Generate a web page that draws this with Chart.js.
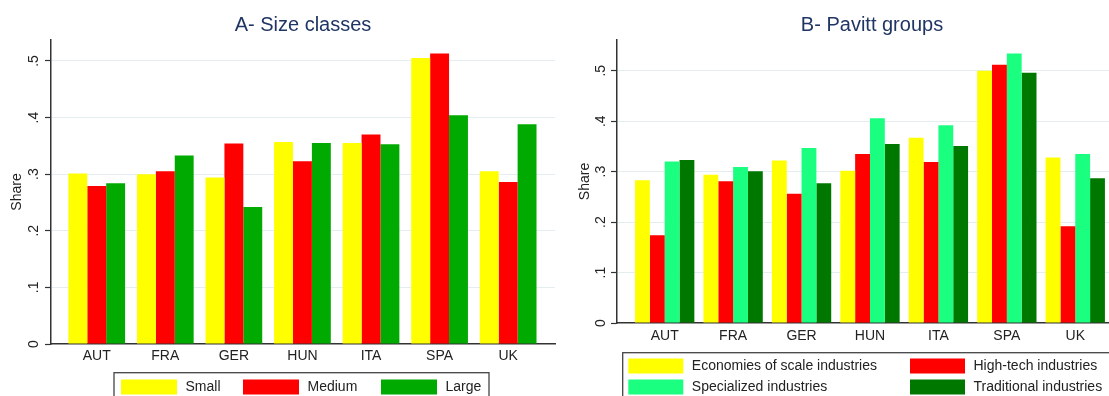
<!DOCTYPE html>
<html lang="en">
<head>
<meta charset="UTF-8">
<title>Share by country</title>
<script src="https://cdn.jsdelivr.net/npm/chart.js@4"></script>
<style>
  body { margin: 0; background: #fff; }
  .panel { position: absolute; top: 0; }
</style>
</head>
<body>
<canvas id="sizeChart" class="panel" width="560" height="396" style="left:0"></canvas>
<canvas id="pavittChart" class="panel" width="549" height="396" style="left:560px"></canvas>
<script>
// data
const countries = ['AUT', 'FRA', 'GER', 'HUN', 'ITA', 'SPA', 'UK'];
const yTicks = [0, 0.1, 0.2, 0.3, 0.4, 0.5];

// A - size classes
const small  = [0.301, 0.300, 0.294, 0.357, 0.355, 0.505, 0.305];
const medium = [0.279, 0.305, 0.354, 0.323, 0.370, 0.513, 0.286];
const large  = [0.284, 0.333, 0.242, 0.355, 0.353, 0.404, 0.388];

// B - Pavitt groups
const scaleInd    = [0.283, 0.294, 0.322, 0.302, 0.367, 0.500, 0.328];
const hightech    = [0.174, 0.281, 0.256, 0.335, 0.319, 0.512, 0.192];
const specialized = [0.320, 0.309, 0.347, 0.406, 0.392, 0.534, 0.335];
const traditional = [0.323, 0.301, 0.277, 0.355, 0.351, 0.496, 0.287];

const FONT = '"Liberation Sans", Arial, Helvetica, sans-serif';
const INK = '#222';

// title + boxed legend, drawn in the style of the original graph
function panelDecor(cfg) {
    return {
        id: 'panelDecor',
        afterDraw(chart) {
            const ctx = chart.ctx;
            ctx.save();
            ctx.fillStyle = '#1f3563';
            ctx.font = '20px ' + FONT;
            ctx.textAlign = 'center';
            ctx.textBaseline = 'middle';
            ctx.fillText(cfg.title, cfg.titleX, cfg.titleY);

            const lg = cfg.legend;
            ctx.strokeStyle = '#444';
            ctx.lineWidth = 1.3;
            ctx.strokeRect(lg.box[0], lg.box[1], lg.box[2], lg.box[3]);
            ctx.font = '14px ' + FONT;
            ctx.textAlign = 'left';
            chart.data.datasets.forEach((ds, i) => {
                const [x, y] = lg.slots[i];
                ctx.fillStyle = ds.backgroundColor;
                ctx.fillRect(x, y, lg.symW, lg.symH);
                ctx.fillStyle = INK;
                ctx.fillText(ds.label, x + lg.symW + lg.gap, y + lg.symH / 2 + 0.5);
            });
            ctx.restore();
        }
    };
}

function fmtTick(v) {
    if (v === 0) return '0';
    return v.toFixed(1).replace(/^0/, '');
}

function makeChart(id, labels, series, colors, p) {
    return new Chart(document.getElementById(id), {
        type: 'bar',
        data: {
            labels: countries,
            datasets: series.map((d, i) => ({
                label: labels[i],
                data: d,
                backgroundColor: colors[i],
                borderWidth: 0,
                categoryPercentage: p.catPct,
                barPercentage: 1
            }))
        },
        options: {
            responsive: false,
            animation: false,
            devicePixelRatio: 1,
            layout: { padding: { top: 40, left: 0, right: p.padRight, bottom: 0 } },
            plugins: { legend: { display: false }, title: { display: false }, tooltip: { enabled: false } },
            scales: {
                x: {
                    // Stata leaves a wider gap before the first and after the last group
                    afterBuildTicks(s) { s._startValue = -p.edge; s._valueRange = p.span; },
                    afterFit(s) { s.height = p.xAxisH; },
                    grid: { display: false, drawTicks: false },
                    border: { color: '#333', width: 1.5 },
                    ticks: { padding: p.xPad, font: { size: 14, family: FONT }, color: INK, maxRotation: 0, autoSkip: false }
                },
                y: {
                    min: 0,
                    max: p.yMax,
                    afterFit(s) { s.width = p.axisW; },
                    afterBuildTicks(s) { s.ticks = yTicks.map(v => ({ value: v })); },
                    border: { color: '#333', width: 1.5 },
                    grid: {
                        color: c => (c.tick && c.tick.value === 0) ? 'rgba(0,0,0,0)' : '#e4eef0',
                        lineWidth: 1,
                        drawTicks: true,
                        tickLength: 6,
                        tickColor: '#333',
                        tickWidth: 1.2
                    },
                    ticks: {
                        minRotation: 90,
                        maxRotation: 90,
                        crossAlign: 'center',
                        padding: p.tickPad,
                        font: { size: 14, family: FONT },
                        color: INK,
                        callback: v => fmtTick(v)
                    },
                    title: {
                        display: true,
                        text: 'Share',
                        font: { size: 14, family: FONT },
                        color: INK,
                        padding: { top: p.titlePad, bottom: 0 }
                    }
                }
            }
        },
        plugins: [panelDecor(p.decor)]
    });
}

makeChart('sizeChart', ['Small', 'Medium', 'Large'], [small, medium, large],
    ['#ffff00', '#ff0000', '#00aa00'],
    {
        catPct: 0.827, edge: 0.667, span: 7.35, padRight: 5, yMax: 0.537,
        axisW: 51, xAxisH: 52, xPad: 4, tickPad: 5, titlePad: 9,
        decor: {
            title: 'A- Size classes', titleX: 303, titleY: 25.5,
            legend: {
                box: [114, 372.7, 375, 40],
                slots: [[121, 379.5], [243, 379.5], [381, 379.5]],
                symW: 56, symH: 15, gap: 8.5
            }
        }
    });

makeChart('pavittChart',
    ['Economies of scale industries', 'High-tech industries', 'Specialized industries', 'Traditional industries'],
    [scaleInd, hightech, specialized, traditional],
    ['#ffff00', '#ff0000', '#1aff80', '#007800'],
    {
        catPct: 0.867, edge: 0.697, span: 7.19, padRight: 0, yMax: 0.561,
        axisW: 57, xAxisH: 73, xPad: 5, tickPad: 4, titlePad: 16.5,
        decor: {
            title: 'B- Pavitt groups', titleX: 312, titleY: 25.5,
            legend: {
                box: [62.7, 352.7, 520, 60],
                slots: [[68.3, 358.5], [350, 358.5], [68.3, 379.5], [350, 379.5]],
                symW: 55, symH: 15, gap: 8.5
            }
        }
    });
</script>
</body>
</html>
